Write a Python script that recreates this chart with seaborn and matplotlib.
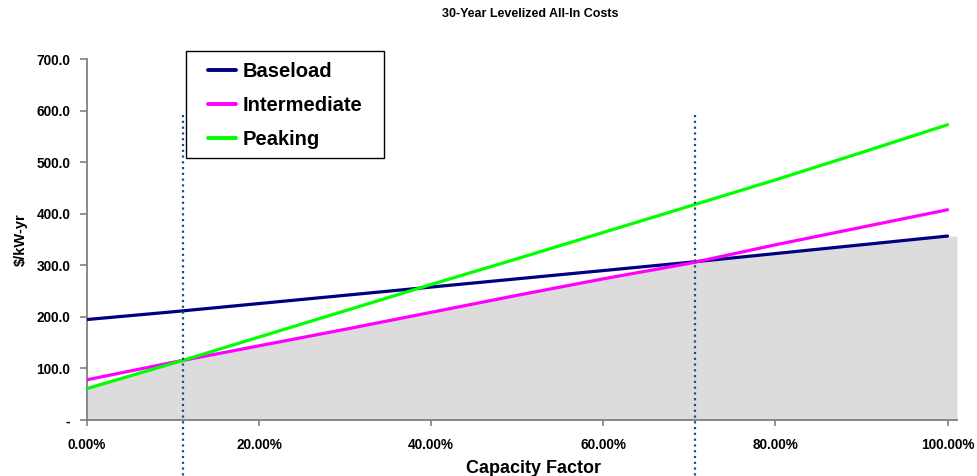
import numpy as np
import pandas as pd
import matplotlib
matplotlib.use("Agg")
import matplotlib.pyplot as plt
from matplotlib.patches import Rectangle
import seaborn as sns

# ---- data ----
capacity = [0, 10, 20, 30, 40, 50, 60, 70, 80, 90, 100]          # capacity factor, %
baseload = [195, 210, 226, 242, 258, 274, 290, 306, 323, 340, 357]
intermediate = [78, 112, 144, 176, 209, 242, 274, 304, 340, 374, 408]
peaking = [61, 110, 161, 212, 263, 313, 364, 415, 466, 519, 573]
series_names = ["Baseload", "Intermediate", "Peaking"]
crossovers = [11.1, 70.6]                                            # dotted markers, %
y_ticks = [0, 100, 200, 300, 400, 500, 600, 700]
x_ticks = [0, 20, 40, 60, 80, 100]

colors = {"Baseload": "#000080", "Intermediate": "#FF00FF", "Peaking": "#00FF00"}

df = pd.DataFrame({
    "cf": capacity * 3,
    "cost": baseload + intermediate + peaking,
    "type": [n for n in series_names for _ in capacity],
})

sns.set_theme(style="white")
plt.rcParams["font.family"] = ["Liberation Sans", "DejaVu Sans"]
plt.rcParams["font.weight"] = "bold"
plt.rcParams["text.color"] = "black"
plt.rcParams["axes.labelcolor"] = "black"
plt.rcParams["xtick.labelcolor"] = "black"
plt.rcParams["ytick.labelcolor"] = "black"

W, H = 977, 476
fig = plt.figure(figsize=(W / 100, H / 100), dpi=100)
x0, x1, y0, y1 = 87, 957, 59.3, 420
ax = fig.add_axes([x0 / W, 1 - y1 / H, (x1 - x0) / W, (y1 - y0) / H])

xmax = 101.1
# gray envelope (lowest-cost option)
env = np.minimum(np.minimum(baseload, intermediate), peaking)
fx = list(capacity) + [xmax]
fy = list(env) + [env[-1]]
ax.fill_between(fx, 0, fy, color="#DCDCDC", linewidth=0, zorder=1)

sns.lineplot(data=df, x="cf", y="cost", hue="type", palette=colors,
             hue_order=series_names, linewidth=2.3, ax=ax, zorder=3)

for c in crossovers:
    ax.plot([c, c], [592, -115], linestyle=(0, (1, 1.6)), linewidth=1.6,
            color="#1F4E79", clip_on=False, zorder=4)

ax.set_xlim(0, xmax)
ax.set_ylim(0, 700)
ax.set_xticks(x_ticks)
ax.set_xticklabels([f"{v:.2f}%" for v in x_ticks])
ax.set_yticks(y_ticks)
ax.set_yticklabels(["-" if v == 0 else f"{v:.1f}" for v in y_ticks])
ax.tick_params(axis="both", labelsize=9.8, labelcolor="black")
ax.tick_params(axis="y", direction="out", length=5, width=1.2, color="#808080", pad=7, left=True)
ax.tick_params(axis="x", direction="out", length=4, width=1.2, color="#808080", pad=9, bottom=True)
for lab in ax.get_xticklabels() + ax.get_yticklabels():
    lab.set_fontweight("bold")

for s in ["top", "right"]:
    ax.spines[s].set_visible(False)
for s in ["left", "bottom"]:
    ax.spines[s].set_color("#808080")
    ax.spines[s].set_linewidth(1.3)

ax.set_xlabel("Capacity Factor", fontsize=13, fontweight="bold", color="black")
ax.set_ylabel("$/kW-yr", fontsize=10.5, fontweight="bold", color="black")
ax.xaxis.set_label_coords((533 - x0) / (x1 - x0), -(460 - y1) / (y1 - y0))
ax.yaxis.set_label_coords((28 - x0) / (x1 - x0), 0.5)

fig.text(530 / W, 1 - 14 / H, "30-Year Levelized All-In Costs", ha="center", va="center",
         fontsize=9, fontweight="bold", color="black",
         family=["Liberation Sans Narrow", "Liberation Sans", "DejaVu Sans"])

# legend box + legend
box = Rectangle((186 / W, 1 - 158 / H), (384 - 186) / W, (158 - 51) / H,
                transform=fig.transFigure, facecolor="white", edgecolor="black",
                linewidth=1.0, zorder=5, clip_on=False)
ax.add_patch(box)
leg = ax.legend(loc="center", bbox_to_anchor=((186 + 384) / 2 / W, 1 - 105.5 / H),
                bbox_transform=fig.transFigure, frameon=False, fontsize=14.5,
                handlelength=1.4, handletextpad=0.3, labelspacing=0.74, borderaxespad=0,
                borderpad=0)
for t in leg.get_texts():
    t.set_fontweight("bold")
    t.set_color("black")
for ln in leg.get_lines():
    ln.set_linewidth(2.8)
leg.set_zorder(6)

fig.savefig("out.png", dpi=100)
